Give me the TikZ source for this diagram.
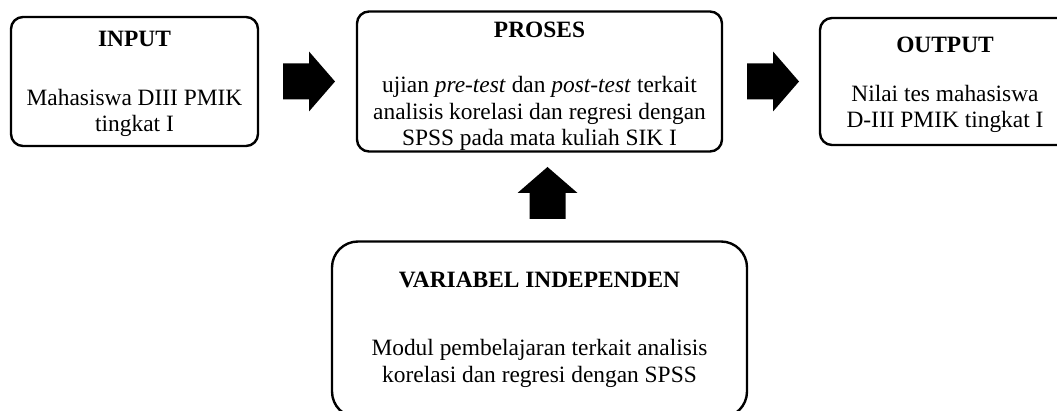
\documentclass[tikz,border=0pt]{standalone}
\usepackage{fontspec}
\setmainfont{Liberation Serif}
\usetikzlibrary{positioning, calc}
\tikzset{
  x=1pt, y=1pt,
  box/.style={rectangle, rounded corners=12pt, draw=black, line width=2.4pt,
              inner sep=0pt, outer sep=0pt},
  boxv/.style={box, rounded corners=26pt},
  ttl/.style={font=\fontsize{23.4}{26.2}\selectfont\bfseries, inner sep=0pt},
  txt/.style={font=\fontsize{23.4}{26.2}\selectfont, align=center, inner sep=0pt},
  blockarr/.pic={\fill[black] (-26,-18) -- (0,-18) -- (0,-30) -- (26,0)
                 -- (0,30) -- (0,18) -- (-26,18) -- cycle;},
}
\begin{document}
\begin{tikzpicture}
  \useasboundingbox (0,0) rectangle (1057,411);
  \clip (0,0) rectangle (1057,411);
  % the three boxes in a row
  \node[box, minimum width=247pt, minimum height=129pt] (input) at (134.5,329.5) {};
  \node[ttl, below=14pt of input.north] (inputT) {INPUT};
  \node[txt, below=72pt of input.north] (inputB) {Mahasiswa DIII PMIK\\tingkat I};
  \node[box, minimum width=365pt, minimum height=140pt, right=99pt of input] (proses) {};
  \node[ttl, below=10pt of proses.north] (prosesT) {PROSES};
  \node[txt, below=65pt of proses.north] (prosesB)
    {ujian \textit{pre-test} dan \textit{post-test} terkait\\analisis korelasi dan regresi dengan\\SPSS pada mata kuliah SIK I};
  \node[box, minimum width=250pt, minimum height=127pt, right=98pt of proses] (output) {};
  \node[ttl, below=19pt of output.north] (outputT) {OUTPUT};
  \node[txt, below=67pt of output.north] (outputB) {Nilai tes mahasiswa\\D-III PMIK tingkat I};
  % box below
  \node[boxv, minimum width=415pt, minimum height=176pt, below=90pt of proses] (varbl) {};
  \node[ttl, below=30pt of varbl.north] (varblT) {VARIABEL INDEPENDEN};
  \node[txt, below=98pt of varbl.north] (varblB)
    {Modul pembelajaran terkait analisis\\korelasi dan regresi dengan SPSS};
  % block arrows
  \pic at ($(input.east)!.5!(proses.west)+(1.5,0)$) {blockarr};
  \pic at ($(proses.east)!.5!(output.west)+(2,0)$) {blockarr};
  \pic[rotate=90] at ($(proses.south)!.5!(varbl.north)+(8,3.5)$) {blockarr};
\end{tikzpicture}
\end{document}
